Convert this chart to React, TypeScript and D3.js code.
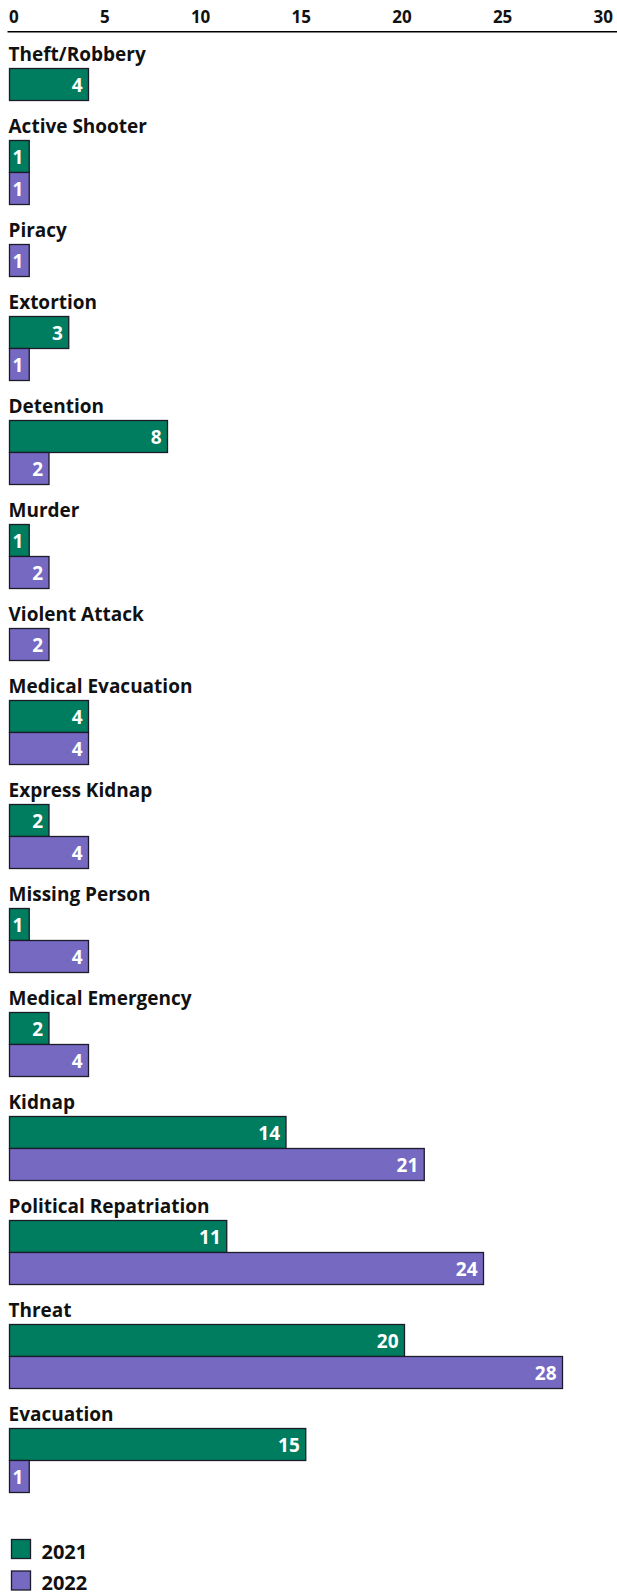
import React, { useLayoutEffect, useRef, useState } from 'react';
import * as d3 from 'd3';

const categories = [
  'Theft/Robbery',
  'Active Shooter',
  'Piracy',
  'Extortion',
  'Detention',
  'Murder',
  'Violent Attack',
  'Medical Evacuation',
  'Express Kidnap',
  'Missing Person',
  'Medical Emergency',
  'Kidnap',
  'Political Repatriation',
  'Threat',
  'Evacuation',
];
const values2021: (number | null)[] = [4, 1, null, 3, 8, 1, null, 4, 2, 1, 2, 14, 11, 20, 15];
const values2022: (number | null)[] = [null, 1, 1, 1, 2, 2, 2, 4, 4, 4, 4, 21, 24, 28, 1];
const seriesNames = ['2021', '2022'];
const tickValues = [0, 5, 10, 15, 20, 25, 30];

const W = 617;
const H = 1595;
const FONT = '"Open Sans", Lato, sans-serif';
const COLORS = ['#007c5f', '#7669c2'];
const STROKE = '#1c1b2b';
const TEXT = '#111111';

export default function App() {
  const x = d3.scaleLinear().domain([0, 30]).range([9.5, 602]);
  const color = d3.scaleOrdinal<string, string>().domain(seriesNames).range(COLORS);

  const barH = 32;
  const labelToBar = 8;
  const barToLabel = 32;
  let cursor = 60.5;
  const groups = categories.map((c, i) => {
    const bars = [
      { s: seriesNames[0], v: values2021[i] },
      { s: seriesNames[1], v: values2022[i] },
    ].filter((b) => b.v != null) as { s: string; v: number }[];
    const baseline = cursor;
    const top = cursor + labelToBar;
    cursor = top + bars.length * barH + barToLabel;
    return { c, baseline, top, bars };
  });

  const tickRefs = useRef<(SVGTextElement | null)[]>([]);
  const [tickX, setTickX] = useState<number[] | null>(null);
  useLayoutEffect(() => {
    const widths = tickRefs.current.map((t) => (t ? t.getComputedTextLength() : 0));
    const left = 9;
    const right = 613;
    const total = widths.reduce((a, b) => a + b, 0);
    const gap = (right - left - total) / (widths.length - 1);
    let cx = left;
    const xs = widths.map((w) => {
      const p = cx;
      cx += w + gap;
      return p;
    });
    setTickX(xs);
  }, []);

  return (
    <div style={{ position: 'absolute', left: 0, top: 0 }}>
      <svg width={W} height={H} style={{ display: 'block', fontFamily: FONT }}>
        <rect x={0} y={0} width={W} height={H} fill="#ffffff" />
        {/* axis */}
        {tickValues.map((t, i) => (
          <text
            key={t}
            ref={(el) => {
              tickRefs.current[i] = el;
            }}
            x={tickX ? tickX[i] : x(t)}
            y={23}
            fontSize={17}
            fontWeight={700}
            fill={TEXT}
          >
            {t}
          </text>
        ))}
        <line x1={7.5} x2={617} y1={31.7} y2={31.7} stroke="#000" strokeWidth={1.6} />

        {groups.map((g) => (
          <g key={g.c}>
            <text x={8.5} y={g.baseline} fontSize={19} fontWeight={700} fill={TEXT}>
              {g.c}
            </text>
            {g.bars.map((b, j) => {
              const yTop = g.top + j * barH;
              const xEnd = x(b.v);
              return (
                <g key={b.s}>
                  <rect
                    x={x(0)}
                    y={yTop}
                    width={xEnd - x(0)}
                    height={barH}
                    fill={color(b.s)}
                    stroke={STROKE}
                    strokeWidth={1.3}
                  />
                  <text
                    x={xEnd - 6}
                    y={yTop + barH / 2 + 7}
                    textAnchor="end"
                    fontSize={19}
                    fontWeight={700}
                    fill="#ffffff"
                  >
                    {b.v}
                  </text>
                </g>
              );
            })}
          </g>
        ))}

        {/* legend */}
        {seriesNames.map((s, i) => (
          <g key={s}>
            <rect
              x={11.5}
              y={1539.5 + i * 31.5}
              width={19}
              height={19}
              fill={color(s)}
              stroke={STROKE}
              strokeWidth={1.3}
            />
            <text x={41.5} y={1559 + i * 31} fontSize={20} fontWeight={700} fill={TEXT}>
              {s}
            </text>
          </g>
        ))}
      </svg>
    </div>
  );
}
